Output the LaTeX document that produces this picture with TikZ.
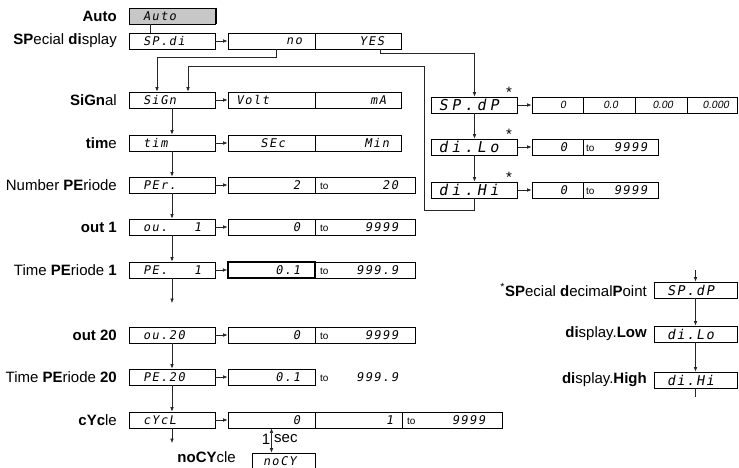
\documentclass[tikz,border=0pt]{standalone}
\usepackage{fontspec}
\setmainfont{Liberation Sans}
\newfontfamily\segA{DejaVu Sans Mono}[LetterSpace=12, FakeSlant=0.18]
\newfontfamily\segC{DejaVu Sans Mono}[LetterSpace=25, FakeSlant=0.18]
\newfontfamily\segN{Liberation Sans}[FakeSlant=0.18]
\usetikzlibrary{arrows.meta}
\newcommand\segsty{\segA\fontsize{12}{12}\selectfont}
\newcommand\seglg{\segA\fontsize{13.5}{13.5}\selectfont}
\newcommand\segbig{\segC\fontsize{15}{15}\selectfont}
\newcommand\segsm{\segN\fontsize{10.5}{10.5}\selectfont}
\newcommand\tofont{\normalfont\fontsize{10}{10}\selectfont}
\newcommand\segL[3]{\makebox[#1][l]{\hspace*{#2}#3}}
\newcommand\segR[3]{\makebox[#1][r]{#3\hspace*{#2}}}
\newcommand\segTo[3]{\makebox[#1][s]{{\tofont to}\hfill{\segsty #2}\hspace*{#3}}}
\begin{document}
\begin{tikzpicture}[x=1pt,y=-1pt,
  box/.style={draw=black, line width=0.7pt, minimum height=16pt, inner sep=0pt, font=\segsty},
  cA/.style={box, minimum width=86pt},
  vA/.style={box, minimum width=87pt},
  vB/.style={box, minimum width=86pt},
  vTo/.style={box, minimum width=100pt},
  lbl/.style={anchor=east, inner sep=0pt, font=\fontsize{15}{15}\selectfont},
  conn/.style={draw=black!85, line width=0.6pt, -{Latex[length=4.5pt,width=3.6pt]}},
  plain/.style={draw=black!85, line width=0.6pt},
  star/.style={inner sep=0pt, font=\fontsize{15}{15}\selectfont}
]
\clip (0,0) rectangle (739,467);
% ---------- left column ----------
\node[cA, fill=black!22] (auto) at (172,16) {\segL{86pt}{14pt}{Auto}};
\draw[line width=1.6pt] ([xshift=1.3pt]auto.north east) -- ([xshift=1.3pt]auto.south east);
\node[cA] (spdi) at (172,41) {\segL{86pt}{14pt}{SP.di}};
\node[cA] (sign) at (172,100) {\segL{86pt}{14pt}{SiGn}};
\node[cA] (time) at (172,143) {\segL{86pt}{14pt}{tim}};
\node[cA] (per) at (172,185) {\segL{86pt}{14pt}{PEr.}};
\node[cA] (out1) at (172,227) {\makebox[86pt][s]{\hspace*{14pt}ou.\hfill 1\hspace*{14pt}}};
\node[cA] (pe1) at (172,270) {\makebox[86pt][s]{\hspace*{14pt}PE.\hfill 1\hspace*{14pt}}};
\node[cA] (out20) at (172,335) {\segL{86pt}{14pt}{ou.20}};
\node[cA] (pe20) at (172,377) {\segL{86pt}{14pt}{PE.20}};
\node[cA] (cycl) at (172,420) {\segL{86pt}{14pt}{cYcL}};
% labels
\node[lbl] (lauto) at (117,16) {\textbf{Auto}};
\node[lbl] (lspdi) at (117,41) {\textbf{SP}ecial \textbf{di}splay};
\node[lbl] (lsign) at (117,100) {\textbf{SiGn}al};
\node[lbl] (ltime) at (117,143) {\textbf{tim}e};
\node[lbl] (lper) at (117,185) {Number \textbf{PE}riode};
\node[lbl] (lout1) at (117,227) {\textbf{out 1}};
\node[lbl] (lpe1) at (117,270) {Time \textbf{PE}riode \textbf{1}};
\node[lbl] (lout20) at (117,335) {\textbf{out 20}};
\node[lbl] (lpe20) at (117,377) {Time \textbf{PE}riode \textbf{20}};
\node[lbl] (lcycl) at (117,420) {\textbf{cYc}le};
% ---------- value columns ----------
\node[vA] (no) at (271.5,41) {\segR{87pt}{13pt}{no}};
\node[vB] (yes) at (358,41) {\segR{86pt}{17pt}{YES}};
\node[vA] (volt) at (271.5,100) {\segL{87pt}{8pt}{Volt}};
\node[vB] (ma) at (358,100) {\segR{86pt}{15pt}{mA}};
\node[vA] (sec) at (271.5,143) {\segR{87pt}{30pt}{SEc}};
\node[vB] (min) at (358,143) {\segR{86pt}{12pt}{Min}};
\node[vA] (p2) at (271.5,185) {\segR{87pt}{15pt}{2}};
\node[vTo] (pto) at (365,185) {\segTo{90pt}{20}{12pt}};
\node[vA] (o1a) at (271.5,227) {\segR{87pt}{15pt}{0}};
\node[vTo] (o1b) at (365,227) {\segTo{90pt}{9999}{12pt}};
\node[vA, line width=1.4pt] (p1a) at (271.5,270) {\segR{87pt}{15pt}{0.1}};
\node[vTo] (p1b) at (365,270) {\segTo{90pt}{999.9}{12pt}};
\node[vA] (o20a) at (271.5,335) {\segR{87pt}{15pt}{0}};
\node[vTo] (o20b) at (365,335) {\segTo{90pt}{9999}{12pt}};
\node[vA] (p20a) at (271.5,377) {\segR{87pt}{15pt}{0.1}};
\node[inner sep=0pt, minimum height=16pt, font=\segsty] (p20b) at (365,377) {\segTo{90pt}{999.9}{12pt}};
\node[vA] (c0) at (271.5,420) {\segR{87pt}{15pt}{0}};
\node[box, minimum width=87pt] (c1) at (358.5,420) {\segR{87pt}{9pt}{1}};
\node[vTo] (cto) at (452,420) {\segTo{90pt}{9999}{12pt}};
\node[box, minimum width=63pt] (nocy) at (283.5,461) {\segL{63pt}{11pt}{noCY}};
\node[lbl] (lnocy) at (236,457) {\textbf{noCY}cle};
% ---------- special display branch ----------
\node[cA, font=\segbig] (spdp) at (474.5,105) {\segL{86pt}{7pt}{SP.dP}};
\node[cA, font=\segbig] (dilo) at (474.5,147) {\segL{86pt}{7pt}{di.Lo}};
\node[cA, font=\segbig] (dihi) at (474.5,190) {\segL{86pt}{7pt}{di.Hi}};
\node[star] (s1) at (509,92) {*};
\node[star] (s2) at (509,134) {*};
\node[star] (s3) at (509,177) {*};
\node[box, minimum width=51pt, font=\segsm] (dp0) at (557.5,105) {\segR{51pt}{17pt}{0}};
\node[box, minimum width=52pt, font=\segsm] (dp1) at (609,105) {\segR{52pt}{17pt}{0.0}};
\node[box, minimum width=52pt, font=\segsm] (dp2) at (661,105) {\segR{52pt}{14pt}{0.00}};
\node[box, minimum width=50pt, font=\segsm] (dp3) at (712,105) {\segR{50pt}{8pt}{0.000}};
\node[box, minimum width=51pt] (lo0) at (557.5,147) {\segR{51pt}{16pt}{0}};
\node[box, minimum width=75pt] (lo1) at (620.5,147) {\segTo{69pt}{9999}{8pt}};
\node[box, minimum width=51pt] (hi0) at (557.5,190) {\segR{51pt}{16pt}{0}};
\node[box, minimum width=75pt] (hi1) at (620.5,190) {\segTo{69pt}{9999}{8pt}};
% ---------- legend ----------
\node[box, minimum width=83pt, font=\seglg] (lgdp) at (695.5,290) {\segL{83pt}{13pt}{SP.dP}};
\node[box, minimum width=83pt, font=\seglg] (lglo) at (695.5,334) {\segL{83pt}{13pt}{di.Lo}};
\node[box, minimum width=83pt, font=\seglg] (lghi) at (695.5,380) {\segL{83pt}{13pt}{di.Hi}};
\node[lbl] (llgdp) at (647,290) {\textsuperscript{*}\textbf{SP}ecial \textbf{d}ecimal\textbf{P}oint};
\node[lbl] (llglo) at (647,334) {\textbf{di}splay.\textbf{Low}};
\node[lbl] (llghi) at (647,380) {\textbf{di}splay.\textbf{High}};
\coordinate (lgin) at (695.5,270);
\coordinate (lgout) at (695.5,397);
\draw[conn] (lgin) -- (lgdp.north);
\draw[conn] (lgdp.south) -- (lglo.north);
\draw[conn] (lglo.south) -- (lghi.north);
\draw[plain] (lghi.south) -- (lgout);
% ---------- connectors ----------
\draw[plain] ([xshift=-22pt]auto.south) -- ([xshift=-22pt]spdi.north);
\foreach \a/\b in {spdi/no, sign/volt, time/sec, per/p2, out1/o1a, pe1/p1a, out20/o20a, pe20/p20a, cycl/c0, spdp/dp0, dilo/lo0, dihi/hi0}
  \draw[conn] (\a.east) -- (\b.west);
\draw[conn] ([xshift=4.5pt]no.south) -- ++(0,8) -| ([xshift=-15pt]sign.north);
\draw[conn] ([xshift=22pt]yes.south) -- ++(0,4) -| (spdp.north);
\coordinate (ret) at (424,66);
\draw[conn] (dihi.south) -- ++(0,12) -| (ret) -| ([xshift=16pt]sign.north);
\draw[conn] (spdp.south) -- (dilo.north);
\draw[conn] (dilo.south) -- (dihi.north);
\draw[conn] (sign.south) -- (time.north);
\draw[conn] (time.south) -- (per.north);
\draw[conn] (per.south) -- (out1.north);
\draw[conn] (out1.south) -- (pe1.north);
\coordinate (dots) at (172,303);
\draw[conn] (pe1.south) -- (dots);
\draw[plain, densely dotted] ([yshift=3pt]dots) -- ([yshift=20pt]dots);
\draw[conn] (out20.south) -- (pe20.north);
\draw[conn] (pe20.south) -- (cycl.north);
\coordinate (cycend) at (172,443);
\draw[conn] (cycl.south) -- (cycend);
\draw[plain, {Latex[length=4.5pt,width=3.6pt]}-{Latex[length=4.5pt,width=3.6pt]}] (c0.south) -- (c0.south |- nocy.north);
\node[inner sep=0pt, font=\fontsize{15}{15}\selectfont, anchor=east] (one) at (270.5,439) {1};
\node[inner sep=0pt, font=\fontsize{15}{15}\selectfont, anchor=west] (secl) at (274,439) {sec};
\end{tikzpicture}
\end{document}
